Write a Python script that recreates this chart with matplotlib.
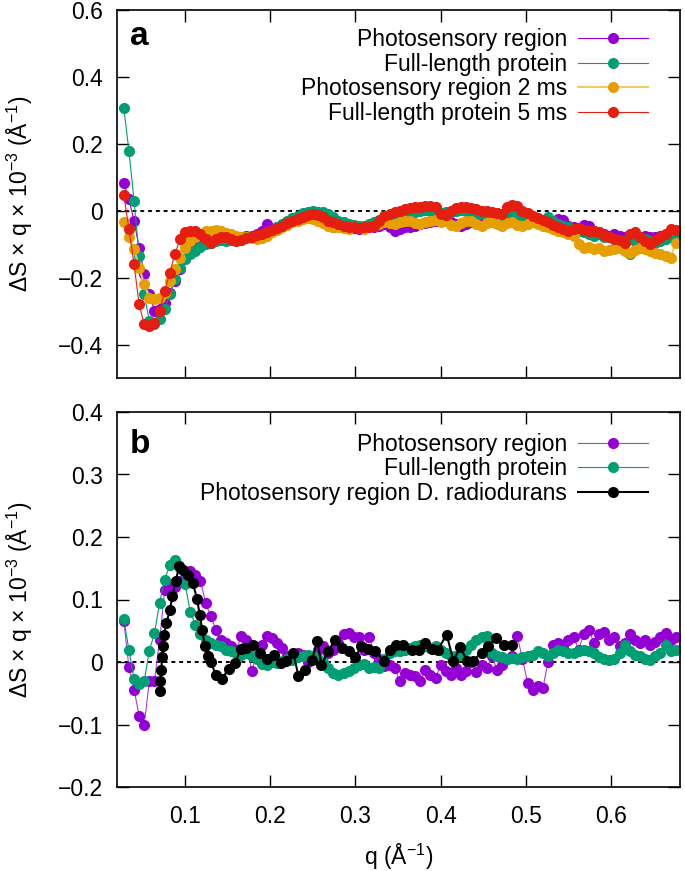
import numpy as np
import matplotlib
matplotlib.use('Agg')
import matplotlib.pyplot as plt
from matplotlib.ticker import MultipleLocator, FuncFormatter

plt.rcParams['font.family'] = ['Liberation Sans', 'DejaVu Sans']
plt.rcParams['mathtext.fontset'] = 'custom'
plt.rcParams['mathtext.rm'] = 'Liberation Sans'
plt.rcParams['mathtext.it'] = 'Liberation Sans:italic'
plt.rcParams['mathtext.bf'] = 'Liberation Sans:bold'

# q grid shared by most series (A^-1)
q = np.round(np.arange(0.028, 0.679, 0.006), 3)

# ---- panel a ----
a_photo = [0.082, 0.035, -0.03, -0.11, -0.19, -0.25, -0.30, -0.295, -0.275, -0.245,
           -0.21, -0.175, -0.145, -0.125, -0.11, -0.10, -0.095, -0.09, -0.088, -0.085,
           -0.085, -0.083, -0.08, -0.078, -0.076, -0.075, -0.07, -0.06, -0.04, -0.055,
           -0.05, -0.045, -0.035, -0.028, -0.02, -0.015, -0.012, -0.012, -0.015, -0.025,
           -0.04, -0.05, -0.045, -0.048, -0.05, -0.052, -0.055, -0.05, -0.045, -0.05,
           -0.045, -0.04, -0.05, -0.06, -0.055, -0.048, -0.05, -0.045, -0.04, -0.038,
           -0.035, -0.03, -0.025, -0.03, -0.035, -0.04, -0.045, -0.04, -0.035, -0.038,
           -0.04, -0.035, -0.03, -0.035, -0.04, -0.035, -0.03, -0.03, -0.04, -0.03,
           -0.025, -0.03, -0.035, -0.04, -0.035, -0.025, -0.028, -0.045, -0.05, -0.055,
           -0.043, -0.045, -0.06, -0.065, -0.07, -0.075, -0.07, -0.075, -0.08, -0.085,
           -0.08, -0.078, -0.075, -0.078, -0.08, -0.075, -0.07, -0.068, -0.065]
a_full = [0.307, 0.179, 0.03, -0.135, -0.25, -0.33, -0.34, -0.325, -0.295, -0.25,
          -0.205, -0.17, -0.145, -0.128, -0.12, -0.108, -0.10, -0.095, -0.09, -0.088,
          -0.09, -0.088, -0.085, -0.087, -0.08, -0.078, -0.075, -0.072, -0.065, -0.058,
          -0.05, -0.04, -0.03, -0.022, -0.015, -0.008, -0.004, -0.002, -0.003, -0.004,
          -0.01, -0.02, -0.03, -0.035, -0.04, -0.042, -0.045, -0.045, -0.04, -0.035,
          -0.028, -0.02, -0.015, -0.012, -0.01, -0.008, -0.005, -0.003, 0.0, 0.002,
          0.0, -0.005, -0.008, -0.005, -0.005, 0.0, 0.003, 0.0, -0.005, -0.008,
          -0.01, -0.012, -0.01, -0.008, -0.012, -0.005, 0.0, -0.01, -0.015, -0.02,
          -0.025, -0.03, -0.035, -0.02, -0.03, -0.04, -0.045, -0.05, -0.058, -0.06,
          -0.065, -0.07, -0.075, -0.07, -0.078, -0.08, -0.085, -0.09, -0.09, -0.13,
          -0.09, -0.088, -0.085, -0.09, -0.095, -0.09, -0.085, -0.08, -0.075]
a_photo_2ms = [-0.035, -0.08, -0.115, -0.17, -0.22, -0.26, -0.265, -0.26, -0.245, -0.21,
               -0.175, -0.14, -0.11, -0.09, -0.08, -0.07, -0.062, -0.06, -0.058, -0.062,
               -0.068, -0.07, -0.075, -0.078, -0.08, -0.082, -0.085, -0.082, -0.075, -0.065,
               -0.058, -0.05, -0.042, -0.035, -0.03, -0.025, -0.022, -0.025, -0.03, -0.038,
               -0.045, -0.048, -0.05, -0.052, -0.055, -0.05, -0.052, -0.055, -0.05, -0.045,
               -0.04, -0.035, -0.038, -0.04, -0.035, -0.03, -0.032, -0.038, -0.04, -0.035,
               -0.03, -0.028, -0.035, -0.032, -0.042, -0.045, -0.038, -0.03, -0.032, -0.04,
               -0.045, -0.038, -0.035, -0.04, -0.045, -0.038, -0.035, -0.042, -0.045, -0.04,
               -0.035, -0.04, -0.045, -0.05, -0.055, -0.06, -0.065, -0.07, -0.075, -0.10,
               -0.11, -0.108, -0.115, -0.112, -0.12, -0.118, -0.115, -0.11, -0.12, -0.125,
               -0.118, -0.11, -0.115, -0.12, -0.125, -0.13, -0.135, -0.14, -0.095]
a_full_5ms = [0.048, -0.055, -0.16, -0.28, -0.34, -0.345, -0.335, -0.30, -0.24, -0.185,
              -0.13, -0.085, -0.065, -0.06, -0.062, -0.07, -0.085, -0.095, -0.085, -0.078,
              -0.08, -0.085, -0.09, -0.088, -0.083, -0.078, -0.072, -0.07, -0.065, -0.058,
              -0.052, -0.045, -0.038, -0.03, -0.025, -0.02, -0.013, -0.01, -0.012, -0.02,
              -0.03, -0.035, -0.04, -0.045, -0.048, -0.05, -0.052, -0.048, -0.05, -0.045,
              -0.03, -0.015, -0.01, -0.005, 0.0, 0.005, 0.008, 0.01, 0.012, 0.015,
              0.014, 0.01, -0.01, -0.012, 0.0, 0.008, 0.012, 0.01, 0.008, 0.005,
              0.0, -0.002, -0.005, -0.008, -0.01, 0.01, 0.018, 0.015, -0.002, -0.008,
              -0.015, -0.022, -0.028, -0.035, -0.042, -0.05, -0.055, -0.06, -0.055, -0.052,
              -0.058, -0.06, -0.062, -0.065, -0.072, -0.078, -0.085, -0.088, -0.095, -0.07,
              -0.065, -0.08, -0.09, -0.10, -0.088, -0.08, -0.07, -0.055, -0.058]

# ---- panel b ----
b_photo = [0.065, -0.008, -0.044, -0.086, -0.10, -0.03, -0.03, 0.035, 0.115, 0.125,
           0.12, 0.13, 0.135, 0.145, 0.14, 0.13, 0.095, 0.073, 0.052, 0.035,
           0.03, 0.025, 0.02, 0.041, 0.035, -0.014, 0.01, 0.028, 0.042, 0.038,
           0.03, 0.022, 0.01, 0.005, 0.015, 0.012, 0.0, 0.01, 0.02, 0.025,
           0.015, 0.02, 0.03, 0.045, 0.047, 0.04, 0.04, 0.02, 0.04, 0.015,
           0.005, -0.006, -0.005, -0.01, -0.03, -0.018, -0.02, -0.022, -0.03, -0.012,
           -0.02, -0.025, -0.005, -0.015, -0.02, -0.01, -0.02, -0.015, 0.0, -0.016,
           -0.005, -0.01, 0.01, -0.012, -0.005, 0.005, 0.01, 0.041, 0.005, -0.033,
           -0.045, -0.038, -0.042, 0.0, 0.028, 0.03, 0.025, 0.035, 0.04, 0.02,
           0.045, 0.052, 0.03, 0.045, 0.048, 0.035, 0.04, 0.025, 0.03, 0.045,
           0.035, 0.03, 0.035, 0.028, 0.032, 0.04, 0.047, 0.035, 0.04]
b_full = [0.069, 0.019, -0.027, -0.035, -0.03, 0.018, 0.046, 0.095, 0.132, 0.155,
          0.163, 0.15, 0.125, 0.08, 0.06, 0.045, 0.035, 0.03, 0.028, 0.025,
          0.02, 0.018, 0.015, 0.012, 0.015, 0.01, 0.005, -0.003, -0.005, 0.0,
          -0.002, 0.002, 0.005, 0.003, 0.008, 0.01, 0.012, 0.01, 0.005, 0.0,
          -0.01, -0.018, -0.02, -0.018, -0.015, -0.01, -0.005, -0.003, -0.01, -0.008,
          -0.01, 0.005, 0.015, 0.018, 0.018, 0.02, 0.022, 0.025, 0.028, 0.025,
          0.022, 0.025, 0.02, 0.015, 0.01, 0.01, 0.012, 0.02, 0.028, 0.035,
          0.04, 0.042, 0.015, 0.01, 0.008, 0.005, 0.007, 0.005, 0.008, 0.01,
          0.012, 0.018, 0.015, 0.01, 0.015, 0.02, 0.018, 0.015, 0.015, 0.018,
          0.02, 0.018, 0.015, 0.008, 0.005, 0.003, 0.005, 0.015, 0.028, 0.018,
          0.012, 0.01, 0.005, 0.003, 0.01, 0.015, 0.028, 0.018, 0.02]
q_dr = [0.070, 0.071, 0.072, 0.073, 0.074, 0.0755, 0.078, 0.082, 0.085, 0.089,
        0.093, 0.098, 0.1035, 0.109, 0.114, 0.117, 0.120, 0.123, 0.127, 0.130,
        0.136, 0.143, 0.151, 0.159, 0.165, 0.172, 0.180, 0.188, 0.196, 0.204,
        0.212, 0.219, 0.227, 0.233, 0.241, 0.249, 0.255, 0.260, 0.268, 0.276,
        0.284, 0.292, 0.300, 0.307, 0.315, 0.323, 0.333, 0.341, 0.348, 0.356,
        0.366, 0.374, 0.382, 0.390, 0.397, 0.407, 0.415, 0.423, 0.431, 0.438,
        0.448, 0.456, 0.465, 0.474, 0.484]
b_dr = [-0.046, -0.03, -0.012, 0.008, 0.026, 0.044, 0.062, 0.083, 0.105, 0.13,
        0.153, 0.148, 0.14, 0.126, 0.101, 0.076, 0.052, 0.026, 0.01, 0.0,
        -0.02, -0.027, -0.011, -0.001, 0.021, 0.023, 0.028, 0.015, 0.005, 0.012,
        -0.002, 0.002, 0.014, -0.022, -0.012, 0.003, 0.034, -0.004, 0.017, 0.036,
        0.023, 0.018, 0.008, 0.026, 0.021, 0.018, 0.002, 0.019, 0.028, 0.028,
        0.020, 0.020, 0.031, 0.021, 0.020, 0.044, 0.002, 0.024, 0.002, 0.002,
        0.015, 0.026, 0.039, 0.027, 0.027]

purple = '#9400d3'
green = '#009e73'
orange = '#e69f00'
red = '#e51e10'
fs = 16.5

fig = plt.figure(figsize=(6.85, 8.71), dpi=100)
ax_a = fig.add_axes([117/685, 1 - 378/871, 563/685, 368/871])
ax_b = fig.add_axes([117/685, 1 - 787/871, 563/685, 375/871])

mk = dict(marker='o', markersize=8, markeredgewidth=0)
ax_a.plot(q, a_photo, color=purple, lw=0.8, label='Photosensory region', **mk)
ax_a.plot(q, a_full, color=green, lw=0.8, label='Full-length protein', **mk)
ax_a.plot(q, a_photo_2ms, color='#f3c76a', lw=1.5, markerfacecolor=orange,
          label='Photosensory region 2 ms', **mk)
ax_a.plot(q, a_full_5ms, color=red, lw=0.8, label='Full-length protein 5 ms', **mk)

ax_b.plot(q, b_photo, color='#a93be0', lw=0.8, markerfacecolor=purple,
          label='Photosensory region', **mk)
ax_b.plot(q, b_full, color=green, lw=0.8, label='Full-length protein', **mk)
ax_b.plot(q_dr, b_dr, color='black', lw=1.5,
          label='Photosensory region D. radiodurans', **mk)

fmt = FuncFormatter(lambda v, p: ('%g' % round(v, 3)).replace('-', '\u2212'))
for ax, ylim, step in [(ax_a, (-0.5, 0.6), 0.2), (ax_b, (-0.2, 0.4), 0.1)]:
    ax.axhline(0, color='black', lw=1.4, ls=(0, (2, 2)), zorder=0)
    ax.set_xlim(0.02, 0.681)
    ax.set_ylim(*ylim)
    ax.xaxis.set_major_locator(MultipleLocator(0.1))
    ax.yaxis.set_major_locator(MultipleLocator(step))
    ax.xaxis.set_major_formatter(fmt)
    ax.yaxis.set_major_formatter(fmt)
    ax.tick_params(direction='in', top=True, right=True, length=8.5, width=1,
                   labelsize=fs)
    ax.tick_params(axis='y', pad=10)
    ax.tick_params(axis='x', pad=13)
    for s in ax.spines.values():
        s.set_linewidth(1.2)
    ax.legend(loc='upper right', frameon=False, fontsize=fs, markerfirst=False,
              handlelength=3.05, handletextpad=0.48, labelspacing=0.06,
              borderpad=0, borderaxespad=0, numpoints=1)

ax_a.legend_.set_bbox_to_anchor((0.943, 0.95), transform=ax_a.transAxes)
ax_b.legend_.set_bbox_to_anchor((0.943, 0.944), transform=ax_b.transAxes)
ax_a.tick_params(axis='x', labelbottom=False)

ax_a.text(0.023, 1 - 35/368, 'a', transform=ax_a.transAxes, fontsize=24,
          fontweight='bold', va='baseline', ha='left')
ax_b.text(0.023, 1 - 41/375, 'b', transform=ax_b.transAxes, fontsize=24,
          fontweight='bold', va='baseline', ha='left')

ylab = '\u0394S \u00d7 q \u00d7 10$^{\u22123}$ (\u00c5$^{\u22121}$)'
fig.text(20/685, 1 - 194/871, ylab, rotation=90, ha='center', va='center', fontsize=fs)
fig.text(20/685, 1 - 600/871, ylab, rotation=90, ha='center', va='center', fontsize=fs)
ax_b.set_xlabel('q (\u00c5$^{\u22121}$)', fontsize=fs, labelpad=10)

fig.savefig('out.png', dpi=100)
